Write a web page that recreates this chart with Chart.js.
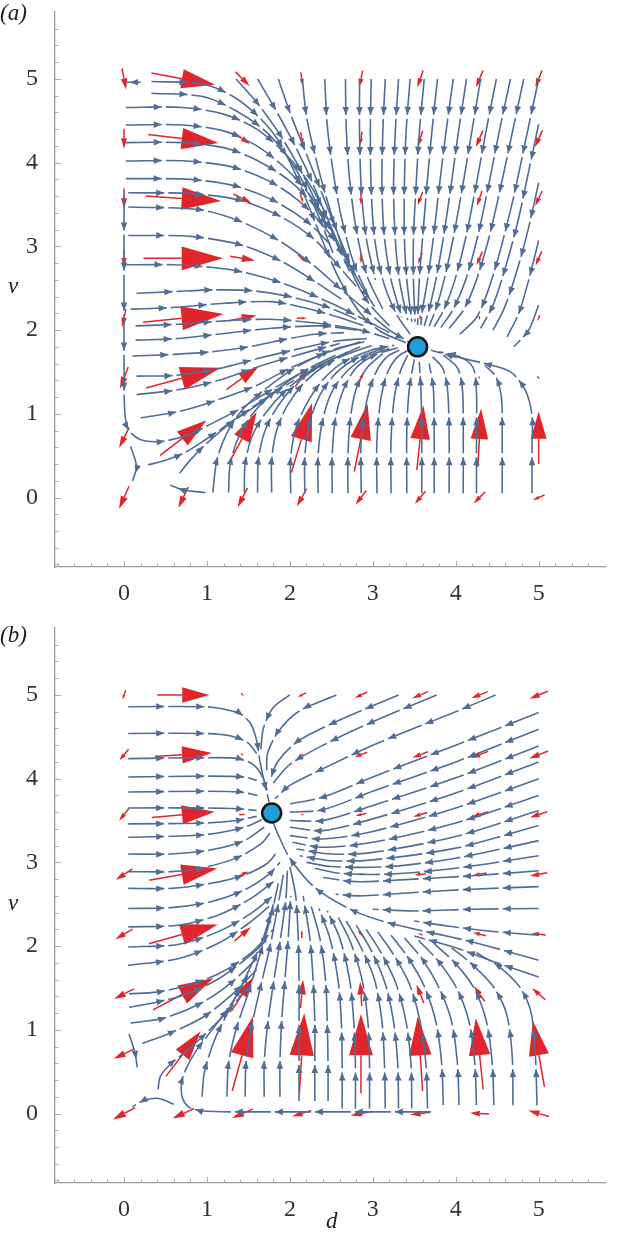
<!DOCTYPE html>
<html>
<head>
<meta charset="utf-8">
<script src="https://cdn.jsdelivr.net/npm/chart.js@4.4.0/dist/chart.umd.min.js"></script>
<style>
html, body { margin: 0; padding: 0; background: #fff; }
#wrap { position: relative; width: 617px; height: 1234px; overflow: hidden; }
canvas { position: absolute; left: 0; }
#ca { top: 0; }
#cb { top: 616px; }
.lbl { position: absolute; font-family: "Liberation Serif", "DejaVu Serif", serif; font-style: italic; font-size: 23px; line-height: 1; color: #222; white-space: nowrap; }
</style>
</head>
<body>
<div id="wrap">
  <canvas id="ca" width="617" height="616"></canvas>
  <canvas id="cb" width="617" height="618"></canvas>
  <div class="lbl" style="left:0px;top:1px">(a)</div>
  <div class="lbl" style="left:0px;top:623px">(b)</div>
  <div class="lbl" style="left:8px;top:274px">v</div>
  <div class="lbl" style="left:8px;top:891px">v</div>
  <div class="lbl" style="left:326px;top:1209px">d</div>
</div>
<script>
// axes
const xRange = [-0.833, 5.8];
const yRange = [-0.83, 5.8];
const tickValues = [0, 1, 2, 3, 4, 5];
const MINOR_STEP = 0.2;

// grid of the red direction arrows (rows from top to bottom)
const gridD = [0, 0.714, 1.429, 2.143, 2.857, 3.571, 4.286, 5];
const gridV = [5, 4.286, 3.571, 2.857, 2.143, 1.429, 0.714, 0];

// panel (a) arrows, drawn vector in data units
const fieldA_dx = [
    [0.05, 0.77, 0.17, 0.02, -0.04, -0.07, -0.085, -0.08],
    [0, 0.85, 0.18, 0.03, -0.03, -0.06, -0.085, -0.09],
    [0, 0.91, 0.22, 0.035, 0, -0.06, -0.06, -0.085],
    [0, 0.96, 0.3, 0.09, 0, -0.05, -0.07, -0.075],
    [-0.04, 0.97, 0.34, 0.12, 0.03, 0.01, 0.01, -0.03],
    [-0.1, 0.9, 0.39, 0.16, 0.06, 0.01, 0.02, 0.04],
    [-0.12, 0.56, 0.34, 0.25, 0.16, 0.08, 0.04, 0],
    [-0.12, -0.12, -0.12, -0.12, -0.13, -0.13, -0.14, -0.14]
];
const fieldA_dy = [
    [-0.25, -0.14, -0.17, -0.16, -0.2, -0.2, -0.2, -0.2],
    [-0.24, -0.1, -0.13, -0.16, -0.17, -0.19, -0.2, -0.2],
    [-0.24, -0.06, -0.11, -0.1, -0.15, -0.16, -0.18, -0.18],
    [-0.22, 0, -0.05, -0.08, -0.12, -0.13, -0.16, -0.17],
    [-0.22, 0.1, 0.06, 0, -0.01, -0.06, -0.05, -0.07],
    [-0.26, 0.24, 0.28, 0.21, 0.13, 0.07, -0.03, -0.03],
    [-0.24, 0.42, 0.62, 0.83, 0.81, 0.77, 0.7, 0.63],
    [-0.27, -0.25, -0.23, -0.21, -0.17, -0.15, -0.14, -0.06]
];

// panel (b) arrows
const fieldB_dx = [
    [-0.04, 0.63, 0.03, -0.1, -0.15, -0.19, -0.2, -0.22],
    [-0.11, 0.69, 0.04, -0.03, -0.15, -0.19, -0.21, -0.23],
    [-0.12, 0.76, 0.08, -0.04, -0.13, -0.17, -0.2, -0.21],
    [-0.2, 0.82, 0.15, 0, -0.1, -0.14, -0.17, -0.21],
    [-0.21, 0.83, 0.2, 0, -0.08, -0.06, -0.16, -0.17],
    [-0.24, 0.73, 0.26, 0.03, -0.02, -0.09, -0.13, -0.16],
    [-0.25, 0.42, 0.25, 0.06, 0, -0.06, -0.09, -0.14],
    [-0.27, -0.26, -0.25, -0.23, -0.25, -0.24, -0.23, -0.25]
];
const fieldB_dy = [
    [-0.11, 0, -0.04, -0.05, -0.07, -0.08, -0.08, -0.09],
    [-0.13, 0.04, -0.02, -0.01, -0.06, -0.07, -0.08, -0.09],
    [-0.15, 0.07, 0, 0, -0.03, -0.05, -0.07, -0.07],
    [-0.13, 0.14, 0.07, 0, 0, -0.01, -0.03, -0.04],
    [-0.12, 0.23, 0.17, 0.1, 0.08, 0.02, 0.04, 0.02],
    [-0.12, 0.38, 0.4, 0.34, 0.29, 0.22, 0.18, 0.14],
    [-0.12, 0.54, 0.89, 0.97, 0.95, 0.89, 0.85, 0.79],
    [-0.14, -0.12, -0.11, -0.07, -0.05, -0.03, 0.01, 0.07]
];

// equilibrium points
const fixedA = [3.54, 1.80];
const fixedB = [1.78, 3.59];

// streamlines of panel (a), points [d, v] in flow order
const streamsA = [
    [[0.2,4.96],[0.03,4.96]],
    [[0.33,4.97],[0.95,4.94],[1.3,4.8],[1.6,4.57],[1.85,4.28],[2.05,3.9],[2.22,3.5],[2.4,3.05],[2.6,2.6],[2.85,2.2],[3.1,1.98],[3.4,1.85]],
    [[0.33,4.83],[0.95,4.79],[1.35,4.62],[1.7,4.38],[1.95,4.1],[2.17,3.75],[2.37,3.3],[2.52,2.92]],
    [[0.02,4.66],[0.7,4.66],[1.2,4.58],[1.6,4.4],[1.95,4.1],[2.2,3.8],[2.4,3.45],[2.56,3.08]],
    [[0.02,4.45],[0.7,4.45],[1.2,4.38],[1.6,4.2],[1.95,3.93],[2.25,3.6],[2.5,3.2],[2.7,2.8]],
    [[0.02,4.24],[0.7,4.24],[1.2,4.18],[1.6,4.03],[2.0,3.78],[2.3,3.48],[2.52,3.15]],
    [[0.02,4.02],[0.75,4.02],[1.3,3.95],[1.75,3.78],[2.1,3.55],[2.4,3.25],[2.65,2.9],[2.82,2.6]],
    [[0.02,3.81],[0.8,3.8],[1.35,3.72],[1.8,3.55],[2.2,3.3],[2.48,3.03]],
    [[0.05,3.64],[0.8,3.63],[1.4,3.55],[1.9,3.35],[2.3,3.08],[2.6,2.75],[2.8,2.52]],
    [[0.05,3.47],[0.9,3.44],[1.4,3.3],[1.9,3.05],[2.3,2.76],[2.6,2.5],[2.9,2.25],[3.2,2.0],[3.45,1.85]],
    [[0.05,3.13],[0.8,3.12],[1.4,3.02],[1.9,2.82],[2.3,2.58],[2.62,2.37]],
    [[0.03,2.78],[0.6,2.78],[1.05,2.75],[1.45,2.69],[1.85,2.58],[2.2,2.45],[2.5,2.32],[2.85,2.15],[3.2,1.97]],
    [[0.15,2.44],[0.6,2.46],[1.07,2.48],[1.55,2.47],[2.0,2.4],[2.44,2.28],[2.8,2.13]],
    [[0.08,2.25],[0.58,2.27],[1.21,2.32],[1.77,2.34],[2.12,2.28],[2.5,2.18],[2.9,2.05]],
    [[0.14,2.05],[0.65,2.07],[1.21,2.11],[1.76,2.13],[2.16,2.1],[2.5,2.06],[2.85,2.0],[3.2,1.9]],
    [[0.14,1.88],[0.65,1.9],[1.21,1.96],[1.76,2.02],[2.36,2.05],[2.8,2.0]],
    [[0.1,1.69],[0.6,1.71],[1.05,1.74],[1.5,1.8],[1.9,1.88],[2.3,1.95],[2.65,1.97]],
    [[0.15,1.45],[0.62,1.46],[1.14,1.54],[1.61,1.66],[2.08,1.77],[2.56,1.87],[2.93,1.9]],
    [[0.15,1.23],[0.67,1.29],[1.14,1.4],[1.61,1.56],[2.08,1.7],[2.6,1.84]],
    [[0.2,0.95],[0.67,1.03],[1.14,1.17],[1.61,1.345],[1.99,1.54],[2.42,1.72],[2.85,1.86]],
    [[0.0,3.62],[0.0,2.6],[0.0,1.6],[0.01,1.0],[0.06,0.8],[0.2,0.69],[0.45,0.67],[0.75,0.74],[1.05,0.88],[1.4,1.06],[1.75,1.27],[2.1,1.47]],
    [[0.29,0.39],[0.48,0.44],[0.72,0.53],[0.95,0.67],[1.33,0.93],[1.7,1.18],[2.05,1.4]],
    [[0.67,0.29],[0.8,0.45],[1.0,0.65],[1.3,0.9],[1.6,1.1],[1.9,1.32]],
    [[0.98,0.06],[0.72,0.09],[0.55,0.15]],
    [[0.08,0.61],[0.15,0.37],[0.1,0.19]],
    [[1.07,0.06],[1.12,0.45],[1.24,0.77],[1.42,1.04],[1.71,1.3],[2.08,1.56],[2.5,1.76],[2.9,1.86]],
    [[1.26,0.06],[1.28,0.4],[1.38,0.72],[1.55,1.0],[1.8,1.25],[2.15,1.5],[2.55,1.7]],
    [[1.45,0.06],[1.46,0.4],[1.54,0.72],[1.7,1.0],[1.95,1.28],[2.3,1.55],[2.7,1.74]],
    [[1.61,0.06],[1.62,0.45],[1.7,0.8],[1.86,1.1],[2.1,1.38],[2.45,1.62],[2.85,1.8]],
    [[1.78,0.06],[1.78,0.45],[1.84,0.8],[1.97,1.1],[2.2,1.4],[2.55,1.65],[3.0,1.82]],
    [[2.01,0.05],[2.01,0.49],[2.08,0.85],[2.23,1.17],[2.42,1.43],[2.65,1.62],[2.98,1.76],[3.26,1.82]],
    [[2.18,0.05],[2.18,0.5],[2.24,0.9],[2.36,1.22],[2.55,1.48],[2.8,1.66],[3.1,1.77]],
    [[2.34,0.05],[2.34,0.5],[2.39,0.9],[2.5,1.25],[2.68,1.5],[2.92,1.68],[3.2,1.78]],
    [[2.51,0.05],[2.51,0.5],[2.55,0.95],[2.65,1.3],[2.8,1.55],[3.02,1.7],[3.3,1.79]],
    [[2.7,0.05],[2.7,0.5],[2.73,0.95],[2.8,1.3],[2.93,1.55],[3.12,1.72]],
    [[2.86,0.05],[2.86,0.69],[2.93,1.17],[3.03,1.48],[3.17,1.68],[3.36,1.78]],
    [[3.05,0.05],[3.05,0.7],[3.1,1.2],[3.18,1.5],[3.3,1.68],[3.45,1.77]],
    [[3.22,0.05],[3.22,0.7],[3.26,1.2],[3.33,1.5],[3.42,1.7]],
    [[3.41,0.05],[3.41,0.8],[3.44,1.3],[3.5,1.65]],
    [[3.59,0.05],[3.59,0.8],[3.58,1.3],[3.56,1.62]],
    [[3.74,0.05],[3.74,0.8],[3.73,1.3],[3.68,1.6]],
    [[3.92,0.05],[3.92,0.8],[3.9,1.3],[3.84,1.55],[3.72,1.68]],
    [[4.09,0.05],[4.09,0.8],[4.08,1.3],[4.02,1.55],[3.85,1.7]],
    [[4.25,0.05],[4.25,0.8],[4.25,1.25],[4.21,1.55],[4.05,1.68],[3.8,1.74]],
    [[4.56,0.05],[4.56,0.8],[4.55,1.2],[4.48,1.45],[4.35,1.58]],
    [[4.92,0.05],[4.92,0.6],[4.92,0.98],[4.84,1.28],[4.66,1.5],[4.35,1.6],[3.92,1.7],[3.7,1.76]],
    [[1.35,5],[1.6,4.72],[1.85,4.38],[2.08,4.0],[2.28,3.6],[2.44,3.22]],
    [[1.61,5],[1.8,4.68],[2.0,4.32],[2.2,3.92],[2.38,3.5],[2.56,3.05],[2.72,2.7]],
    [[1.86,5],[2.0,4.6],[2.16,4.2],[2.32,3.8],[2.48,3.4],[2.64,3.0],[2.82,2.6],[3.02,2.28]],
    [[2.15,5],[2.2,4.55],[2.3,4.1],[2.42,3.65],[2.56,3.2],[2.72,2.75],[2.93,2.35],[3.2,2.05]],
    [[2.42,5],[2.45,4.45],[2.52,3.9],[2.62,3.35],[2.77,2.8],[2.97,2.35]],
    [[2.67,5],[2.68,4.4],[2.72,3.8],[2.8,3.2],[2.93,2.65],[3.12,2.25]],
    [[2.84,5],[2.84,4.35],[2.86,3.7],[2.92,3.1],[3.03,2.6]],
    [[2.98,5],[2.97,4.35],[2.98,3.7],[3.02,3.1],[3.12,2.6],[3.28,2.2],[3.45,1.95]],
    [[3.15,5],[3.12,4.35],[3.11,3.7],[3.14,3.1],[3.22,2.6],[3.35,2.15]],
    [[3.31,5],[3.27,4.35],[3.25,3.7],[3.27,3.1],[3.32,2.6],[3.42,2.12]],
    [[3.45,5],[3.4,4.35],[3.38,3.7],[3.38,3.1],[3.41,2.6],[3.47,2.1]],
    [[3.62,5],[3.56,4.35],[3.52,3.7],[3.49,3.1],[3.49,2.6],[3.51,2.1]],
    [[3.78,5],[3.71,4.35],[3.65,3.7],[3.6,3.1],[3.56,2.6],[3.54,2.06]],
    [[3.97,5],[3.88,4.35],[3.8,3.7],[3.73,3.1],[3.66,2.6],[3.6,2.25],[3.58,2.06]],
    [[4.13,5],[4.03,4.35],[3.94,3.7],[3.85,3.1],[3.76,2.6],[3.68,2.25],[3.62,2.05]],
    [[4.3,5],[4.19,4.35],[4.08,3.7],[3.97,3.1],[3.86,2.6],[3.76,2.25],[3.68,2.05]],
    [[4.49,5],[4.36,4.35],[4.24,3.7],[4.12,3.1],[3.99,2.6],[3.86,2.25],[3.74,2.04]],
    [[4.66,5],[4.52,4.35],[4.39,3.7],[4.26,3.1],[4.12,2.6],[3.97,2.25],[3.82,2.03]],
    [[4.82,5],[4.68,4.35],[4.54,3.7],[4.4,3.1],[4.25,2.6],[4.1,2.25],[3.92,2.02]],
    [[5,5],[4.85,4.3],[4.7,3.6],[4.55,3.0],[4.4,2.5],[4.25,2.15],[4.05,1.95]],
    [[5,4.46],[4.88,3.9],[4.75,3.3],[4.6,2.75],[4.45,2.3],[4.3,2.02]],
    [[5,3.76],[4.86,3.15],[4.72,2.65],[4.58,2.25],[4.45,2.0]],
    [[5,3.07],[4.88,2.6],[4.76,2.2],[4.62,1.92]],
    [[5,2.3],[4.88,2.0],[4.7,1.8]]
];

// streamlines of panel (b)
const streamsB = [
    [[0.05,4.86],[0.97,4.86],[1.21,4.83],[1.41,4.77],[1.53,4.65],[1.6,4.45],[1.64,4.2],[1.7,3.92],[1.75,3.72]],
    [[0.05,4.54],[0.97,4.54],[1.29,4.51],[1.49,4.43],[1.6,4.3]],
    [[0.05,4.24],[0.97,4.25],[1.37,4.24],[1.57,4.16],[1.68,4.0],[1.73,3.84]],
    [[0.05,4.02],[0.97,4.03],[1.45,4.02],[1.6,3.98]],
    [[0.05,3.84],[0.97,3.85],[1.4,3.84],[1.61,3.8]],
    [[0.05,3.65],[0.97,3.65],[1.37,3.64],[1.6,3.62]],
    [[0.05,3.46],[0.97,3.47],[1.35,3.5],[1.6,3.55]],
    [[0.05,3.3],[0.97,3.33],[1.45,3.42],[1.66,3.51]],
    [[0.05,3.1],[0.57,3.1],[1.05,3.15],[1.45,3.26],[1.69,3.42]],
    [[0.05,2.89],[0.57,2.89],[0.97,2.94],[1.37,3.06],[1.65,3.22],[1.76,3.35]],
    [[0.05,2.69],[0.57,2.69],[1.05,2.75],[1.45,2.85],[1.73,2.99],[1.84,3.12]],
    [[0.05,2.45],[0.57,2.46],[1.05,2.53],[1.45,2.67],[1.75,2.86],[1.88,3.0]],
    [[0.05,2.23],[0.65,2.25],[1.13,2.37],[1.53,2.57],[1.84,2.8]],
    [[0.05,1.99],[0.65,2.02],[1.13,2.17],[1.53,2.39],[1.82,2.62]],
    [[0.05,1.77],[0.65,1.85],[1.13,2.03],[1.5,2.27],[1.78,2.5]],
    [[0.06,1.43],[0.39,1.45],[0.72,1.52],[1.14,1.67],[1.52,1.91],[1.8,2.2]],
    [[0.06,1.27],[0.39,1.33],[0.77,1.43],[1.14,1.61],[1.5,1.87],[1.75,2.1]],
    [[0.08,1.08],[0.48,1.14],[0.95,1.33],[1.3,1.57],[1.6,1.85]],
    [[0.22,0.84],[0.53,0.95],[0.95,1.15],[1.3,1.42],[1.6,1.72]],
    [[0.06,0.95],[0.13,0.73],[0.16,0.55]],
    [[0.41,0.29],[0.44,0.45],[0.58,0.61],[0.77,0.76],[1.0,0.97],[1.25,1.22],[1.5,1.52]],
    [[3.7,0.02],[2.5,0.02],[1.5,0.02],[0.95,0.03],[0.78,0.08],[0.7,0.2],[0.7,0.4],[0.78,0.6],[0.92,0.82],[1.1,1.05],[1.32,1.35],[1.52,1.7]],
    [[0.6,0.11],[0.42,0.18],[0.25,0.16],[0.1,0.08]],
    [[0.94,0.2],[0.97,0.5],[1.1,0.9],[1.3,1.3],[1.5,1.7],[1.68,2.1],[1.8,2.5]],
    [[1.24,0.2],[1.26,0.6],[1.35,1.0],[1.5,1.45],[1.64,1.9],[1.77,2.35],[1.86,2.75]],
    [[1.46,0.2],[1.47,0.6],[1.53,1.0],[1.63,1.45],[1.75,1.95],[1.85,2.45],[1.92,2.85]],
    [[1.69,0.2],[1.69,0.6],[1.73,1.05],[1.8,1.55],[1.88,2.05],[1.95,2.55],[1.97,2.9]],
    [[1.88,0.2],[1.88,0.6],[1.9,1.1],[1.94,1.6],[1.98,2.1],[2.01,2.6]],
    [[2.11,0.15],[2.11,0.6],[2.11,1.1],[2.11,1.6],[2.1,2.1],[2.07,2.6],[2.0,2.95]],
    [[2.3,0.15],[2.3,0.6],[2.3,1.1],[2.28,1.6],[2.24,2.1],[2.16,2.6]],
    [[2.46,0.15],[2.46,0.6],[2.45,1.1],[2.43,1.6],[2.36,2.1],[2.25,2.5]],
    [[2.63,0.06],[2.63,0.6],[2.62,1.1],[2.58,1.6],[2.48,2.1],[2.35,2.45]],
    [[2.79,0.06],[2.79,0.6],[2.77,1.1],[2.72,1.6],[2.6,2.1],[2.45,2.42]],
    [[2.96,0.06],[2.96,0.6],[2.94,1.1],[2.87,1.6],[2.73,2.05],[2.58,2.35]],
    [[3.15,0.06],[3.14,0.6],[3.11,1.1],[3.02,1.6],[2.85,2.0],[2.68,2.3]],
    [[3.31,0.06],[3.3,0.6],[3.25,1.1],[3.15,1.55],[2.98,1.95],[2.8,2.25]],
    [[3.47,0.06],[3.46,0.6],[3.4,1.1],[3.28,1.55],[3.1,1.92],[2.92,2.2]],
    [[3.66,0.06],[3.64,0.6],[3.57,1.1],[3.44,1.55],[3.25,1.9],[3.06,2.17]],
    [[3.85,0.1],[3.83,0.6],[3.76,1.1],[3.62,1.52],[3.42,1.87],[3.22,2.13]],
    [[4.04,0.1],[4.02,0.6],[3.95,1.1],[3.8,1.5],[3.6,1.84],[3.38,2.1]],
    [[4.25,0.1],[4.23,0.6],[4.16,1.1],[4.01,1.5],[3.79,1.82],[3.55,2.07]],
    [[4.46,0.1],[4.44,0.6],[4.37,1.1],[4.22,1.5],[3.99,1.8],[3.74,2.03]],
    [[4.69,0.1],[4.68,0.7],[4.61,1.2],[4.45,1.52],[4.2,1.78],[3.95,1.98]],
    [[4.98,0.1],[4.96,0.7],[4.91,1.2],[4.78,1.5],[4.53,1.75],[4.25,1.92]],
    [[5,1.83],[4.2,2.05],[3.22,2.27],[2.75,2.43],[2.3,2.7],[2.0,3.05],[1.85,3.35],[1.79,3.5]],
    [[5,1.63],[4.5,1.8],[4.0,1.98],[3.5,2.12]],
    [[5,2.13],[4.4,2.18],[3.9,2.24],[3.5,2.3]],
    [[5,2.45],[4.2,2.44],[3.5,2.42],[3.0,2.44]],
    [[5,2.71],[4.2,2.68],[3.5,2.64],[2.85,2.6],[2.55,2.62]],
    [[5,2.9],[4.2,2.84],[3.5,2.8],[2.8,2.77],[2.4,2.82]],
    [[5,3.08],[4,2.93],[3.2,2.86],[2.6,2.87],[2.3,2.93]],
    [[5,3.26],[4,3.05],[3.2,2.95],[2.5,2.95],[2.2,3.0]],
    [[5,3.44],[4,3.17],[3,3.03],[2.5,3.02],[2.12,3.08]],
    [[5,3.62],[4,3.31],[3,3.12],[2.5,3.1],[2.08,3.16]],
    [[5,3.8],[4,3.47],[3,3.24],[2.4,3.18],[2.03,3.24]],
    [[5,4.0],[4,3.65],[3,3.37],[2.4,3.28],[2.0,3.32]],
    [[5,4.2],[4,3.83],[3,3.52],[2.4,3.38],[2.0,3.42]],
    [[5,4.39],[4,4.01],[3,3.68],[2.4,3.5],[2.0,3.5]],
    [[5,4.59],[4,4.2],[3,3.85],[2.4,3.63],[2.0,3.6]],
    [[5,4.79],[4,4.4],[3,4.02],[2.4,3.78],[2.0,3.7]],
    [[4.48,5],[4,4.8],[3,4.4],[2.4,4.12],[2.0,3.92],[1.82,3.76]],
    [[3.77,5],[3,4.68],[2.4,4.4],[2.0,4.17],[1.8,3.95]],
    [[3.31,5],[2.6,4.7],[2.1,4.45],[1.85,4.2],[1.76,3.98]],
    [[2.56,5],[2.1,4.8],[1.85,4.55],[1.73,4.3],[1.72,4.1]],
    [[2.0,5],[1.8,4.85],[1.68,4.6],[1.65,4.35]]
];

const STREAM_COLOR = '#506d96';
const ARROW_COLOR = '#e0262c';
const DASH = 36, GAP = 4;
const SERIF = "'Liberation Serif', 'DejaVu Serif', serif";

Chart.defaults.font.family = SERIF;

// red direction arrows, under the streamlines
const fieldArrows = {
    id: 'fieldArrows',
    beforeDatasetsDraw(chart) {
        const f = chart.options.plugins.fieldArrows;
        const ctx = chart.ctx;
        const xs = chart.scales.x, ys = chart.scales.y;
        ctx.save();
        ctx.fillStyle = ARROW_COLOR;
        ctx.strokeStyle = ARROW_COLOR;
        ctx.lineWidth = 1.5;
        gridV.forEach((gv, i) => {
            gridD.forEach((gd, j) => {
                const u = f.dx[i][j], w = f.dy[i][j];
                const x0 = xs.getPixelForValue(gd - u / 2), y0 = ys.getPixelForValue(gv - w / 2);
                const x1 = xs.getPixelForValue(gd + u / 2), y1 = ys.getPixelForValue(gv + w / 2);
                const len = Math.hypot(x1 - x0, y1 - y0);
                if (len < 2) return;
                const ux = (x1 - x0) / len, uy = (y1 - y0) / len;
                const hl = len * 0.52, hw = len * 0.15;
                const bx = x1 - ux * hl, by = y1 - uy * hl;
                ctx.beginPath();
                ctx.moveTo(x0, y0);
                ctx.lineTo(bx, by);
                ctx.stroke();
                ctx.beginPath();
                ctx.moveTo(x1, y1);
                ctx.lineTo(bx - uy * hw, by + ux * hw);
                ctx.lineTo(bx + uy * hw, by - ux * hw);
                ctx.closePath();
                ctx.fill();
            });
        });
        ctx.restore();
    }
};

// arrowheads along every streamline, at the end of each dash
const streamHeads = {
    id: 'streamHeads',
    afterDatasetDraw(chart, args) {
        const ds = chart.data.datasets[args.index];
        if (!ds.stream) return;
        const pts = args.meta.data;
        if (pts.length < 2) return;
        const poly = [[pts[0].x, pts[0].y]];
        for (let i = 0; i < pts.length - 1; i++) {
            const a = pts[i], b = pts[i + 1];
            const c1x = a.cp2x ?? a.x, c1y = a.cp2y ?? a.y;
            const c2x = b.cp1x ?? b.x, c2y = b.cp1y ?? b.y;
            for (let k = 1; k <= 20; k++) {
                const t = k / 20, m = 1 - t;
                poly.push([
                    m * m * m * a.x + 3 * m * m * t * c1x + 3 * m * t * t * c2x + t * t * t * b.x,
                    m * m * m * a.y + 3 * m * m * t * c1y + 3 * m * t * t * c2y + t * t * t * b.y
                ]);
            }
        }
        let total = 0;
        for (let i = 1; i < poly.length; i++) total += Math.hypot(poly[i][0] - poly[i - 1][0], poly[i][1] - poly[i - 1][1]);
        const marks = [];
        if (total < DASH + 4) {
            if (total > 14) marks.push(total * 0.75);
        } else {
            for (let s = DASH; s < total - 4; s += DASH + GAP) marks.push(s);
        }
        const ctx = chart.ctx;
        ctx.save();
        ctx.fillStyle = STREAM_COLOR;
        let acc = 0, m = 0;
        for (let i = 1; i < poly.length && m < marks.length; i++) {
            const [ax, ay] = poly[i - 1], [bx, by] = poly[i];
            const L = Math.hypot(bx - ax, by - ay);
            while (m < marks.length && acc + L >= marks[m]) {
                const t = L > 0 ? (marks[m] - acc) / L : 0;
                const px = ax + (bx - ax) * t, py = ay + (by - ay) * t;
                const ux = (bx - ax) / (L || 1), uy = (by - ay) / (L || 1);
                const hx = px - ux * 8, hy = py - uy * 8;
                ctx.beginPath();
                ctx.moveTo(px, py);
                ctx.lineTo(hx - uy * 3.3, hy + ux * 3.3);
                ctx.lineTo(hx + uy * 3.3, hy - ux * 3.3);
                ctx.closePath();
                ctx.fill();
                m++;
            }
            acc += L;
        }
        ctx.restore();
    }
};

// Mathematica style ticks, pointing into the frame
const innerTicks = {
    id: 'innerTicks',
    afterDraw(chart) {
        const ctx = chart.ctx, a = chart.chartArea;
        const xs = chart.scales.x, ys = chart.scales.y;
        ctx.save();
        ctx.strokeStyle = '#aaaaaa';
        ctx.lineWidth = 1;
        for (let k = Math.ceil(xs.min / MINOR_STEP); k * MINOR_STEP <= xs.max; k++) {
            const val = k * MINOR_STEP;
            const major = Math.abs(val - Math.round(val)) < 1e-6;
            const px = Math.round(xs.getPixelForValue(val)) + 0.5;
            ctx.beginPath();
            ctx.moveTo(px, a.bottom);
            ctx.lineTo(px, a.bottom - (major ? 6 : 3.5));
            ctx.stroke();
        }
        for (let k = Math.ceil(ys.min / MINOR_STEP); k * MINOR_STEP <= ys.max; k++) {
            const val = k * MINOR_STEP;
            const major = Math.abs(val - Math.round(val)) < 1e-6;
            const py = Math.round(ys.getPixelForValue(val)) + 0.5;
            ctx.beginPath();
            ctx.moveTo(a.left, py);
            ctx.lineTo(a.left + (major ? 6 : 3.5), py);
            ctx.stroke();
        }
        ctx.restore();
    }
};

function buildPanel(canvasId, streams, dx, dy, fixedPt, padTop, xHeight) {
    const datasets = streams.map(line => ({
        data: line.map(p => ({x: p[0], y: p[1]})),
        stream: true,
        showLine: true,
        fill: false,
        borderColor: STREAM_COLOR,
        borderWidth: 1.6,
        borderDash: [DASH, GAP],
        borderCapStyle: 'butt',
        tension: 0.3,
        pointRadius: 0,
        pointHoverRadius: 0
    }));
    datasets.push({
        data: [{x: fixedPt[0], y: fixedPt[1]}],
        pointRadius: 9.5,
        pointBackgroundColor: '#1f9fd7',
        pointBorderColor: '#151515',
        pointBorderWidth: 2.5,
        order: -1
    });

    const tickFont = {family: SERIF, size: 24};
    const buildTicks = scale => { scale.ticks = tickValues.map(v => ({value: v})); };
    // keep the frame exactly where the layout padding puts it
    const noPad = s => { s.paddingTop = 0; s.paddingBottom = 0; s.paddingLeft = 0; s.paddingRight = 0; };

    return new Chart(document.getElementById(canvasId), {
        type: 'scatter',
        data: {datasets: datasets},
        options: {
            responsive: false,
            animation: false,
            events: [],
            layout: {padding: {top: padTop, right: 5, left: 0, bottom: 0}},
            plugins: {
                legend: {display: false},
                tooltip: {enabled: false},
                fieldArrows: {dx: dx, dy: dy}
            },
            scales: {
                x: {
                    type: 'linear',
                    min: xRange[0],
                    max: xRange[1],
                    afterBuildTicks: buildTicks,
                    afterFit: s => { s.height = xHeight; noPad(s); },
                    grid: {display: false},
                    border: {display: true, color: '#9c9c9c', width: 1.3},
                    ticks: {padding: 4, color: '#333', font: tickFont, maxRotation: 0, autoSkip: false}
                },
                y: {
                    type: 'linear',
                    min: yRange[0],
                    max: yRange[1],
                    afterBuildTicks: buildTicks,
                    afterFit: s => { s.width = 55; noPad(s); },
                    grid: {display: false},
                    border: {display: true, color: '#9c9c9c', width: 1.3},
                    ticks: {padding: 9, color: '#333', font: tickFont, autoSkip: false}
                }
            }
        },
        plugins: [fieldArrows, streamHeads, innerTicks]
    });
}

buildPanel('ca', streamsA, fieldA_dx, fieldA_dy, fixedA, 12, 49);
buildPanel('cb', streamsB, fieldB_dx, fieldB_dy, fixedB, 11.5, 51);
</script>
</body>
</html>
